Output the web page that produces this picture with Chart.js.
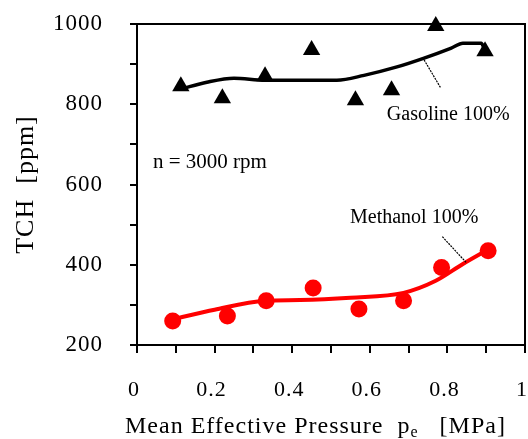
<!DOCTYPE html>
<html>
<head>
<meta charset="utf-8">
<script src="https://cdn.jsdelivr.net/npm/chart.js@4.4.0/dist/chart.umd.min.js"></script>
<style>
	html, body {margin: 0; padding: 0; background: #ffffff; overflow: hidden;}
	#chart-container {position: relative; width: 528px; height: 439px;}
</style>
</head>
<body>
<div id="chart-container"><canvas id="tch-chart"></canvas></div>
<script>
// TCH vs mean effective pressure, n = 3000 rpm

var gasolinePressure = [0.113, 0.22, 0.33, 0.45, 0.563, 0.656, 0.77, 0.897];
var gasolineTCH = [845, 815, 870, 935, 810, 835, 995, 932];

var gasolineFitPressure = [0.113, 0.18, 0.25, 0.33, 0.42, 0.515, 0.585, 0.67, 0.74, 0.81, 0.84, 0.887, 0.897];
var gasolineFitTCH = [838, 855, 865, 860, 860, 860, 872, 893, 915, 940, 952, 952, 935];

var methanolPressure = [0.092, 0.233, 0.333, 0.454, 0.572, 0.687, 0.785, 0.905];
var methanolTCH = [260, 272, 310, 342, 290, 310, 393, 435];

var methanolFitPressure = [0.092, 0.2, 0.33, 0.42, 0.55, 0.687, 0.77, 0.84, 0.905];
var methanolFitTCH = [264, 288, 310, 312, 318, 330, 360, 402, 438];

var xTickLabels = ['0', '0.2', '0.4', '0.6', '0.8', '1'];
var yTickLabels = ['200', '400', '600', '800', '1000'];

var serifFont = '"Liberation Serif", "Times New Roman", serif';

function toPoints(xs, ys)
{
	return xs.map(function (x, i) {return {x: x, y: ys[i]}});
}

function noPadding(scale)
{
	scale.paddingLeft = 0;
	scale.paddingRight = 0;
	scale.paddingTop = 0;
	scale.paddingBottom = 0;
}

var notesPlugin =
{
	id: 'tch-notes',
	beforeDraw: function (chart)
	{
		chart.ctx.letterSpacing = '1px';
	},
	afterDraw: function (chart)
	{
		var ctx = chart.ctx;
		var area = chart.chartArea;
		var xs = chart.scales.x;
		var ys = chart.scales.y;

		ctx.save();

		// top and right frame
		ctx.strokeStyle = '#000000';
		ctx.lineWidth = 2;
		ctx.beginPath();
		ctx.moveTo(area.left, area.top);
		ctx.lineTo(area.right, area.top);
		ctx.lineTo(area.right, area.bottom);
		ctx.stroke();

		// leader lines
		ctx.lineWidth = 1.2;
		ctx.setLineDash([2, 1]);
		ctx.beginPath();
		ctx.moveTo(xs.getPixelForValue(0.736), ys.getPixelForValue(917));
		ctx.lineTo(xs.getPixelForValue(0.782), ys.getPixelForValue(842));
		ctx.moveTo(xs.getPixelForValue(0.787), ys.getPixelForValue(470));
		ctx.lineTo(xs.getPixelForValue(0.849), ys.getPixelForValue(405));
		ctx.stroke();
		ctx.setLineDash([]);

		ctx.fillStyle = '#000000';
		ctx.textBaseline = 'alphabetic';
		ctx.textAlign = 'left';
		ctx.letterSpacing = '0px';

		ctx.font = '20px ' + serifFont;
		ctx.fillText('Gasoline 100%', xs.getPixelForValue(0.644), ys.getPixelForValue(760));
		ctx.fillText('Methanol 100%', xs.getPixelForValue(0.549), ys.getPixelForValue(503));

		ctx.font = '21px ' + serifFont;
		ctx.fillText('n = 3000 rpm', xs.getPixelForValue(0.041), ys.getPixelForValue(642));

		// x axis title with subscript
		ctx.letterSpacing = '1px';
		ctx.font = '24px ' + serifFont;
		var tx = area.left - 12;
		var ty = 433;
		var part = 'Mean Effective Pressure  p';
		ctx.fillText(part, tx, ty);
		tx += ctx.measureText(part).width;
		ctx.font = '16px ' + serifFont;
		ctx.fillText('e', tx, ty + 4);
		tx += ctx.measureText('e').width;
		ctx.font = '24px ' + serifFont;
		ctx.fillText('   [MPa]', tx, ty);

		// y axis title
		ctx.translate(26, (area.top + area.bottom) / 2);
		ctx.rotate(-Math.PI / 2);
		ctx.textAlign = 'center';
		ctx.textBaseline = 'middle';
		ctx.font = '26px ' + serifFont;
		ctx.fillText('TCH  [ppm]', 0, 0);

		ctx.restore();
	}
};

var chartData =
{
	datasets:
	[
		{
			label: 'Gasoline 100% fit',
			data: toPoints(gasolineFitPressure, gasolineFitTCH),
			showLine: true,
			borderColor: '#000000',
			borderWidth: 3.5,
			pointRadius: 0,
			cubicInterpolationMode: 'monotone'
		},
		{
			label: 'Gasoline 100%',
			data: toPoints(gasolinePressure, gasolineTCH),
			pointStyle: 'triangle',
			pointRadius: 10,
			backgroundColor: '#000000',
			borderColor: '#000000',
			borderWidth: 0,
			clip: false
		},
		{
			label: 'Methanol 100% fit',
			data: toPoints(methanolFitPressure, methanolFitTCH),
			showLine: true,
			borderColor: '#ff0000',
			borderWidth: 4,
			pointRadius: 0,
			cubicInterpolationMode: 'monotone'
		},
		{
			label: 'Methanol 100%',
			data: toPoints(methanolPressure, methanolTCH),
			pointStyle: 'circle',
			pointRadius: 8.5,
			backgroundColor: '#ff0000',
			borderColor: '#ff0000',
			borderWidth: 0,
			clip: false
		}
	]
};

var ctx = document.getElementById('tch-chart');

window.tchChart = new Chart(ctx,
{
	type: 'scatter',
	data: chartData,
	plugins: [notesPlugin],
	options:
	{
		responsive: true,
		maintainAspectRatio: false,
		animation: false,
		layout:
		{
			autoPadding: false,
			padding: {top: 24, right: 3, left: 0, bottom: 0}
		},
		plugins:
		{
			legend: {display: false},
			tooltip: {enabled: false},
			title: {display: false}
		},
		scales:
		{
			x:
			{
				type: 'linear',
				min: 0,
				max: 1,
				afterFit: function (scale)
				{
					scale.height = 94;
					noPadding(scale);
				},
				border: {display: true, color: '#000000', width: 2},
				grid: {drawOnChartArea: false, drawTicks: true, tickLength: 8, color: '#000000', lineWidth: 2},
				ticks:
				{
					stepSize: 0.1,
					autoSkip: false,
					maxRotation: 0,
					padding: 24,
					labelOffset: -3,
					color: '#000000',
					font: {family: serifFont, size: 22},
					callback: function (value)
					{
						var step = Math.round(value * 10);
						if (step % 2 != 0) {return ''}
						return xTickLabels[step / 2];
					}
				}
			},
			y:
			{
				type: 'linear',
				min: 200,
				max: 1000,
				afterFit: function (scale)
				{
					scale.width = 137;
					noPadding(scale);
				},
				border: {display: true, color: '#000000', width: 2},
				grid: {drawOnChartArea: false, drawTicks: true, tickLength: 7, color: '#000000', lineWidth: 2},
				ticks:
				{
					stepSize: 100,
					autoSkip: false,
					padding: 27,
					color: '#000000',
					font: {family: serifFont, size: 23},
					callback: function (value)
					{
						if (value % 200 != 0) {return ''}
						return yTickLabels[(value - 200) / 200];
					}
				}
			}
		}
	}
});
</script>
</body>
</html>
